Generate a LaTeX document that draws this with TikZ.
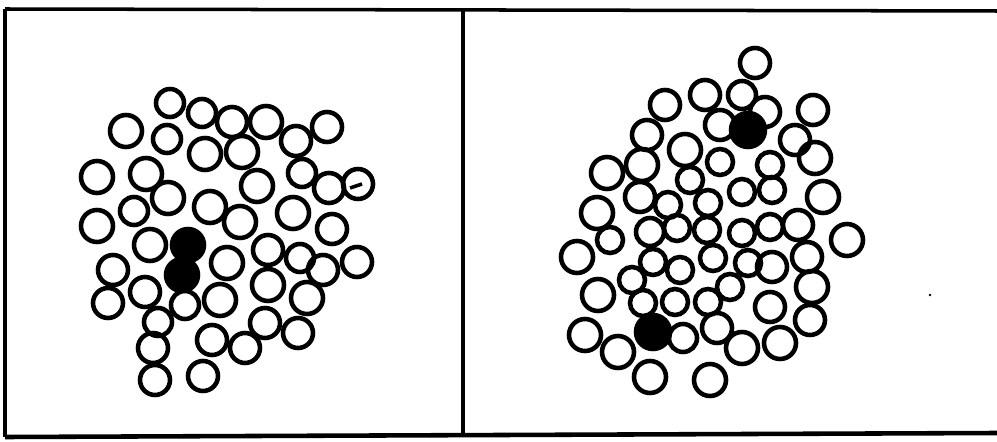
\documentclass[tikz,border=0pt]{standalone}
\usepackage{tikz}

\begin{document}
\begin{tikzpicture}[x=0.02cm,y=-0.02cm,ball/.style={draw=black,line width=2.6pt},core/.style={fill=black},frame/.style={line width=2pt}]
\useasboundingbox (0,0) rectangle (997,442);
% frame with two panels
\draw[frame] (5,9) -- (997,11); \draw[frame,line width=2.6pt] (5,437) -- (997,433);
\draw[frame] (5,9) -- (5,437); \draw[frame] (463,10) -- (463,435);
% left panel
\foreach \x/\y/\r in {170/103/14,202/113/14,232/122/15,266/122/16,327/127/15,126/131/16,167/139/14,205/154/16,242/152/16,296/141/15,97/177/16,146/174/16,302/173/14,329/188/15,358/184/15,134/211/14,168/198/16,210/207/16,257/186/16,293/213/16,97/226/16,150/245/16,240/222/16,332/229/15,113/270/15,227/263/16,268/250/15,300/258/14,323/270/15,357/262/15,108/303/15,145/292/15,185/305/14,220/300/16,268/285/16,307/298/16,158/322/14,212/340/15,265/323/15,298/333/15,245/348/15,153/348/15,155/380/15,203/376/15}
  \draw[ball] (\x,\y) circle[radius=\r*0.02cm];
\foreach \x/\y/\r in {188/245/16,182/275/16}
  \fill[core] (\x,\y) circle[radius=\r*0.02cm+1.3pt];
\draw[ball,line width=2pt] (350,188) -- (362,184);
% right panel
\foreach \x/\y/\r in {755/63/15,705/95/15,742/95/14,665/105/15,765/112/15,813/110/15,720/125/15,647/135/15,685/150/16,795/140/15,642/165/16,607/173/16,720/162/13,770/165/13,815/158/16,690/180/13,640/197/15,597/213/16,668/205/13,708/203/13,742/192/13,772/190/13,823/197/16,650/232/14,677/228/13,707/230/13,742/233/13,770/227/13,798/225/15,847/240/16,577/257/16,610/240/13,653/262/13,680/270/13,713/258/13,748/263/13,772/267/15,807/257/15,632/280/13,598/295/16,643/303/13,675/302/13,708/302/13,730/287/13,812/287/16,770/307/15,810/320/15,585/335/16,683/338/14,717/328/15,742/348/16,780/343/16,618/352/16,650/377/16,710/380/16}
  \draw[ball] (\x,\y) circle[radius=\r*0.02cm];
\foreach \x/\y/\r in {748/130/17,653/332/17}
  \fill[core] (\x,\y) circle[radius=\r*0.02cm+1.3pt];
\fill (930,295) circle[radius=0.8pt];
\end{tikzpicture}
\end{document}
